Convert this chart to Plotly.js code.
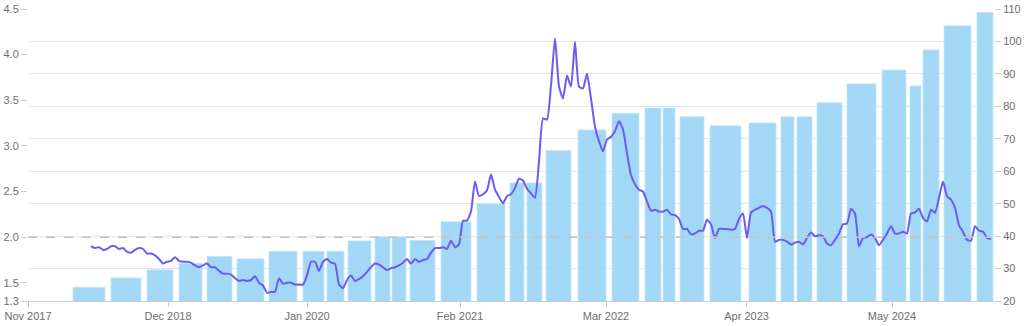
<!DOCTYPE html>
<html>
<head>
<meta charset="utf-8">
<script src="https://cdn.plot.ly/plotly-3.0.1.min.js"></script>
<style>html,body{margin:0;padding:0;background:#fff;}#chart{width:1024px;height:326px;}</style>
</head>
<body>
<div id="chart"></div>
<script>
// x axis: observation index (line sampled once per period)
const tickPositions = [-15.75, 19.25, 54, 92.25, 128.75, 163.9, 200.25];
const tickLabels = ["Nov 2017", "Dec 2018", "Jan 2020", "Feb 2021", "Mar 2022", "Apr 2023", "May 2024"];

// left axis series (line)
const lineValues = [
1.90,1.88,1.89,1.86,1.87,1.90,1.90,1.87,1.88,1.84,1.83,1.86,1.88,1.87,1.82,1.82,1.80,1.76,1.71,1.73,
1.74,1.78,1.74,1.73,1.73,1.72,1.69,1.67,1.69,1.71,1.67,1.67,1.63,1.60,1.60,1.59,1.55,1.52,1.53,1.52,
1.53,1.57,1.50,1.47,1.39,1.40,1.40,1.55,1.49,1.50,1.50,1.48,1.48,1.48,1.58,1.73,1.73,1.63,1.73,1.76,
1.72,1.71,1.48,1.44,1.53,1.58,1.52,1.54,1.57,1.62,1.67,1.71,1.70,1.67,1.64,1.66,1.67,1.69,1.72,1.76,
1.71,1.76,1.73,1.75,1.76,1.83,1.88,1.88,1.89,1.87,1.96,1.89,1.92,2.18,2.18,2.28,2.61,2.45,2.47,2.51,
2.69,2.52,2.44,2.37,2.45,2.47,2.54,2.64,2.62,2.53,2.48,2.43,2.83,3.30,3.29,3.66,4.18,3.65,3.52,3.77,
3.65,4.14,3.65,3.63,3.79,3.52,3.21,3.05,2.94,3.07,3.10,3.16,3.27,3.18,2.92,2.68,2.58,2.52,2.50,2.39,
2.29,2.30,2.28,2.28,2.30,2.25,2.24,2.20,2.09,2.09,2.03,2.04,2.07,2.07,2.19,2.14,1.99,2.09,2.09,2.09,
2.08,2.09,2.20,2.26,1.99,2.27,2.30,2.32,2.34,2.32,2.28,1.95,1.97,1.97,1.95,1.92,1.94,1.95,1.92,1.99,
2.05,2.01,2.02,2.01,1.93,1.91,1.97,2.04,2.14,2.15,2.31,2.26,1.90,1.99,2.00,2.03,1.99,1.91,1.97,2.04,
2.12,2.04,2.04,2.06,2.04,2.26,2.27,2.31,2.21,2.17,2.30,2.27,2.43,2.61,2.45,2.41,2.32,2.13,2.06,1.97,
1.96,2.12,2.07,2.06,1.99,1.98
];
const lineIndex = lineValues.map((v, i) => i);

// right axis series (bars), each bar spans [start, end] in index units
const barStart = [-4.5, 5, 14, 22, 29, 36.5, 44.5, 53, 59, 64.25, 71, 75.25, 79.75, 87.5, 96.5, 104.75, 109,
  113.75, 121.75, 130.25, 138.5, 143, 147.25, 154.75, 164.5, 172.5, 176.5, 181.5, 189, 197.75, 204.75, 208, 213.25, 221.5];
const barEnd = [3.5, 12.5, 20.5, 27.75, 35.25, 43.25, 51.5, 58.25, 63.25, 70, 74.75, 78.75, 86, 95, 103.5, 108.25, 112.75,
  120, 128.75, 137, 142.5, 146, 153.25, 162.5, 171.25, 175.75, 180.25, 187.75, 196.25, 203.75, 207.5, 212, 220, 225.5];
const barValues = [24.2, 27.1, 29.6, 31.6, 33.7, 33.0, 35.3, 35.3, 35.3, 38.5, 39.7, 39.7, 38.7, 44.4, 50.0, 56.4, 56.4,
  66.4, 72.7, 77.9, 79.5, 79.5, 76.8, 74.0, 74.9, 76.8, 76.8, 81.1, 86.9, 91.2, 86.3, 97.4, 104.8, 109.0];

const leftTicks = [1.3, 1.5, 2.0, 2.5, 3.0, 3.5, 4.0, 4.5];
const referenceLevel = 2.0;

const barX = barStart.map((s, i) => (s + barEnd[i]) / 2);
const barW = barStart.map((s, i) => barEnd[i] - s);

const font = {family: "Liberation Sans, Arial, sans-serif", size: 11, color: "#6e6e6e"};

// primary y = right-side bar axis (with grid); y2 = left-side line axis drawn on top
const traces = [
  {
    type: "bar", x: barX, y: barValues, width: barW, yaxis: "y",
    marker: {color: "#a2d8f5", line: {width: 0.8, color: "#c4e6f9"}},
    hoverinfo: "skip"
  },
  {
    type: "scatter", mode: "lines", x: lineIndex, y: lineValues, yaxis: "y2",
    line: {color: "#6a5cf0", width: 2, shape: "spline", smoothing: 0.5},
    hoverinfo: "skip"
  }
];

const layout = {
  width: 1024, height: 326,
  margin: {l: 28, r: 30, t: 9, b: 25, pad: 0},
  paper_bgcolor: "#fff", plot_bgcolor: "#fff",
  showlegend: false,
  font: font,
  xaxis: {
    type: "linear", range: [-15.75, 225.75],
    tickmode: "array", tickvals: tickPositions, ticktext: tickLabels,
    ticks: "outside", ticklen: 5, tickcolor: "#cccccc",
    showline: true, linecolor: "#cccccc", linewidth: 1,
    showgrid: false, zeroline: false, tickfont: font
  },
  yaxis: {
    side: "right", range: [20, 110], tick0: 20, dtick: 10,
    ticks: "outside", ticklen: 6, tickcolor: "#cccccc",
    showgrid: true, gridcolor: "#e6e6e6", gridwidth: 1,
    zeroline: false, showline: false, tickfont: font
  },
  yaxis2: {
    overlaying: "y", side: "left",
    range: [1.3, 4.5], tickmode: "array", tickvals: leftTicks, tickformat: ".1f",
    ticks: "outside", ticklen: 6, tickcolor: "#cccccc",
    showgrid: false, zeroline: false, showline: false, tickfont: font
  },
  shapes: [{
    type: "line", xref: "paper", x0: 0, x1: 1, yref: "y2", y0: referenceLevel, y1: referenceLevel,
    line: {color: "#c4c4c4", width: 1.5, dash: "dash"}
  }],
  bargap: 0
};

Plotly.newPlot("chart", traces, layout, {displayModeBar: false, staticPlot: true});
</script>
</body>
</html>
